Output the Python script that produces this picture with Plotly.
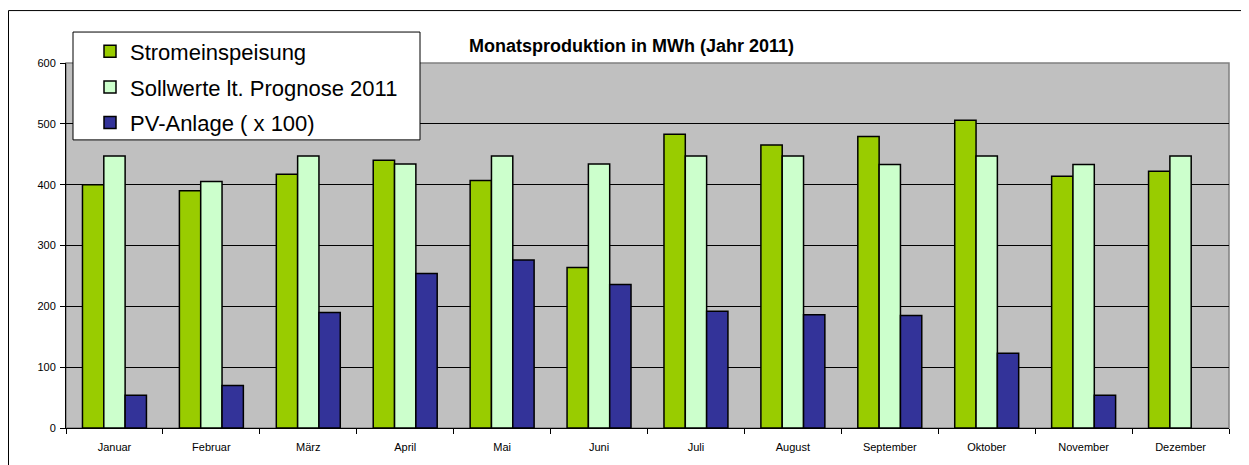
import plotly.graph_objects as go

months = ["Januar", "Februar", "März", "April", "Mai", "Juni", "Juli",
          "August", "September", "Oktober", "November", "Dezember"]
stromeinspeisung = [400, 390, 417, 440, 407, 264, 483, 465, 479, 506, 414, 422]
sollwerte = [447, 405, 447, 434, 447, 434, 447, 447, 433, 447, 433, 447]
pv_anlage = [54, 70, 190, 254, 276, 236, 192, 186, 185, 123, 54, None]

names = ["Stromeinspeisung", "Sollwerte lt. Prognose 2011", "PV-Anlage ( x 100)"]
colors = ["#99CC00", "#CCFFCC", "#333399"]
series = [stromeinspeisung, sollwerte, pv_anlage]

fig = go.Figure()
for i, (n, c, v) in enumerate(zip(names, colors, series)):
    fig.add_trace(go.Bar(x=months, y=v, name=n, legendgroup=str(i),
                         marker=dict(color=c, line=dict(color="black", width=1.5))))

# page body margin offsets the figure by 8px
OFF = 8
W, H = 1249 - OFF, 465 - OFF
# plot area in screen pixels: x 66..1229, y 63..428.5
L, R, T, B = 66 - OFF, 1249 - 1229, 63 - OFF, 465 - 428.5
pw, ph = W - L - R, H - T - B

def px(xs):
    return (xs - OFF - L) / pw

def py(ys):
    return (H - B - (ys - OFF)) / ph

fig.update_layout(
    width=W, height=H,
    margin=dict(l=L, r=R, t=T, b=B, pad=0),
    paper_bgcolor="white", plot_bgcolor="#C0C0C0",
    font=dict(family="Arial, Liberation Sans, sans-serif", size=11, color="black"),
    barmode="group", bargap=0.34, bargroupgap=0,
    showlegend=True,
    legend=dict(x=px(90), y=py(30.5), xanchor="left", yanchor="top",
                bgcolor="rgba(0,0,0,0)", borderwidth=0,
                font=dict(size=22, color="black"),
                traceorder="grouped", tracegroupgap=4,
                itemclick=False),
    xaxis=dict(showline=True, linecolor="black", linewidth=1,
               ticks="outside", ticklen=5, tickcolor="black",
               tickson="boundaries", showgrid=False,
               ticklabelstandoff=9,
               tickfont=dict(size=11)),
    yaxis=dict(range=[0, 600], dtick=100, showline=True, linecolor="black",
               linewidth=1, ticks="outside", ticklen=5, tickcolor="black",
               showgrid=True, gridcolor="black", gridwidth=1,
               ticklabelstandoff=2,
               zeroline=False, tickfont=dict(size=11)),
    shapes=[
        dict(type="rect", xref="paper", yref="paper", x0=0, y0=0, x1=1, y1=1,
             line=dict(color="#808080", width=1.5), layer="below"),
        dict(type="rect", xref="paper", yref="paper", x0=px(8.5), y0=py(10.5),
             x1=px(1265), y1=py(480), line=dict(color="black", width=1)),
        dict(type="rect", xref="paper", yref="paper", x0=px(73), y0=py(32),
             x1=px(420), y1=py(140), fillcolor="white",
             line=dict(color="black", width=1), layer="above"),
    ],
    annotations=[
        dict(text="<b>Monatsproduktion in MWh (Jahr 2011)</b>", xref="paper",
             yref="paper", x=px(631), y=py(46), xanchor="center",
             yanchor="middle", showarrow=False, font=dict(size=18, color="black")),
    ],
)

fig.write_html("out.html")
